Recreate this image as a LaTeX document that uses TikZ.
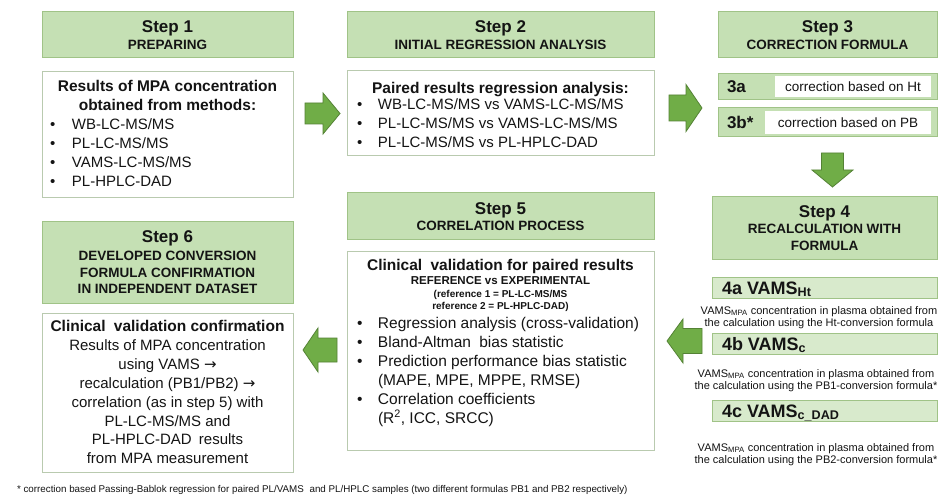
\documentclass[tikz,border=0pt]{standalone}
\usepackage{fontspec}
\setmainfont{Liberation Sans}
\newfontfamily\dejavu{DejaVu Sans}
\definecolor{hdrfill}{RGB}{197,224,180}
\definecolor{hdrdraw}{RGB}{160,195,135}
\definecolor{boxdraw}{RGB}{185,202,175}
\definecolor{vfill}{RGB}{216,234,204}
\definecolor{arrfill}{RGB}{112,173,71}
\definecolor{arrdraw}{RGB}{84,130,53}
\definecolor{txt}{RGB}{20,20,20}
\newcommand{\fs}[2]{\fontsize{#1}{#2}\selectfont}
\newcommand{\ctab}[1]{\begin{tabular}[t]{@{}c@{}}#1\end{tabular}}
\newcommand{\btab}[2]{\begin{tabular}[t]{@{}p{#1}@{}l@{}}#2\end{tabular}}
\newcommand{\rarr}{{\dejavu\char"2192}}
% right arrow: tail x, centre y, length, head length, shaft half, head half
\newcommand{\arrR}[6]{\draw[barrow] (#1,#2-#5) -- (#1+#3-#4,#2-#5) -- (#1+#3-#4,#2-#6) -- (#1+#3,#2) -- (#1+#3-#4,#2+#6) -- (#1+#3-#4,#2+#5) -- (#1,#2+#5) -- cycle;}
% left arrow: tip x, centre y, length, head length, shaft half, head half
\newcommand{\arrL}[6]{\draw[barrow] (#1,#2) -- (#1+#4,#2-#6) -- (#1+#4,#2-#5) -- (#1+#3,#2-#5) -- (#1+#3,#2+#5) -- (#1+#4,#2+#5) -- (#1+#4,#2+#6) -- cycle;}
% down arrow: centre x, top y, length, head length, shaft half, head half
\newcommand{\arrD}[6]{\draw[barrow] (#1-#5,#2) -- (#1+#5,#2) -- (#1+#5,#2+#3-#4) -- (#1+#6,#2+#3-#4) -- (#1,#2+#3) -- (#1-#6,#2+#3-#4) -- (#1-#5,#2+#3-#4) -- cycle;}
\begin{document}
\begin{tikzpicture}[x=1pt,y=-1pt,
  every node/.style={inner sep=0pt, outer sep=0pt, text=txt},
  hdr/.style={draw=hdrdraw, fill=hdrfill, line width=1pt, anchor=north west, align=center, font=\fs{13.5}{16.5}\bfseries},
  cbox/.style={draw=boxdraw, fill=white, line width=1pt, anchor=north west},
  rowbox/.style={draw=hdrdraw, fill=hdrfill, line width=1pt, anchor=north west},
  wbox/.style={fill=white, anchor=north west, font=\fs{13.5}{15}},
  vbox/.style={draw=hdrdraw, fill=vfill, line width=1pt, anchor=north west},
  barrow/.style={fill=arrfill, draw=arrdraw, line width=0.8pt, line join=miter},
  lbl/.style={anchor=west, font=\fs{17}{18}\bfseries},
  vlbl/.style={anchor=base west, font=\fs{18}{20}\bfseries},
  desc/.style={anchor=base, font=\fs{11}{12.2}},
  body/.style={font=\fs{15}{19}},
  btitle/.style={anchor=base, font=\fs{15.5}{19}\bfseries}]
\fill[white] (0,0) rectangle (938,500);
\useasboundingbox (0,0) rectangle (938,500);

% ---------- Step 1 ----------
\node[hdr, minimum width=251, minimum height=46] (h1) at (42,12) {{\fs{17}{17}Step 1}\\PREPARING};
\node[cbox, minimum width=251, minimum height=126] (c1) at (42,72) {};
\node[btitle] (c1t) at (167.5,92) {\ctab{Results of MPA concentration\\obtained from methods:}};
\node[body, anchor=base west] (c1b) at (50,129.5) {\btab{22pt}{\textbullet & WB-LC-MS/MS\\ \textbullet & PL-LC-MS/MS\\ \textbullet & VAMS-LC-MS/MS\\ \textbullet & PL-HPLC-DAD}};

% ---------- Step 2 ----------
\node[hdr, minimum width=307, minimum height=46] (h2) at (347,12) {{\fs{17}{17}Step 2}\\INITIAL REGRESSION ANALYSIS};
\node[cbox, minimum width=307, minimum height=85] (c2) at (347,71) {};
\node[btitle] (c2t) at (500.5,93.5) {Paired results regression analysis:};
\node[anchor=base west, font=\fs{15}{18.8}] (c2b) at (357,110) {\btab{21pt}{\textbullet & WB-LC-MS/MS vs VAMS-LC-MS/MS\\ \textbullet & PL-LC-MS/MS vs VAMS-LC-MS/MS\\ \textbullet & PL-LC-MS/MS vs PL-HPLC-DAD}};

% ---------- Step 3 ----------
\node[hdr, minimum width=219, minimum height=46] (h3) at (718,12) {{\fs{17}{17}Step 3}\\CORRECTION FORMULA};
\node[rowbox, minimum width=219, minimum height=26] (r3a) at (718,74) {};
\node[wbox, minimum width=156, minimum height=21] (w3a) at (775,76.5) {correction based on Ht};
\node[lbl] (l3a) at (727,87) {3a};
\node[rowbox, minimum width=219, minimum height=29] (r3b) at (718,108) {};
\node[wbox, minimum width=166, minimum height=23] (w3b) at (765,111) {correction based on PB};
\node[lbl] (l3b) at (727,122.5) {3b*};

% ---------- Step 4 ----------
\node[hdr, minimum width=225, minimum height=62] (h4) at (712,197) {{\fs{17}{17}Step 4}\\RECALCULATION WITH\\FORMULA};
\node[vbox, minimum width=225, minimum height=21] (b4a) at (712,277) {};
\node[vlbl] (t4a) at (722,294) {4a VAMS\textsubscript{Ht}};
\node[desc] (d4a) at (819,314) {\ctab{VAMS\textsubscript{MPA} concentration in plasma obtained from\\the calculation using the Ht-conversion formula}};
\node[vbox, minimum width=225, minimum height=21] (b4b) at (712,333) {};
\node[vlbl] (t4b) at (722,350) {4b VAMS\textsubscript{c}};
\node[desc] (d4b) at (816,377) {\ctab{VAMS\textsubscript{MPA} concentration in plasma obtained from\\the calculation using the PB1-conversion formula*}};
\node[vbox, minimum width=225, minimum height=21] (b4c) at (712,400) {};
\node[vlbl] (t4c) at (722,417) {4c VAMS\textsubscript{c\_DAD}};
\node[desc] (d4c) at (816,451) {\ctab{VAMS\textsubscript{MPA} concentration in plasma obtained from\\the calculation using the PB2-conversion formula*}};

% ---------- Step 5 ----------
\node[hdr, minimum width=307, minimum height=47] (h5) at (347,193) {{\fs{17}{17}Step 5}\\CORRELATION PROCESS};
\node[cbox, minimum width=307, minimum height=199] (c5) at (347,251) {};
\node[btitle] (c5t) at (500.5,270.5) {Clinical\hspace{4pt} validation for paired results};
\node[anchor=base, font=\fs{11.5}{13}\bfseries] (c5r) at (500.5,284.5) {REFERENCE vs EXPERIMENTAL};
\node[anchor=base, font=\fs{10}{13}\bfseries] (c5s) at (500.5,297) {\ctab{(reference 1 = PL-LC-MS/MS\\reference 2 = PL-HPLC-DAD)}};
\node[anchor=base west, font=\fs{15.5}{18.9}] (c5b) at (357,328.5) {\btab{21pt}{\textbullet & Regression analysis (cross-validation)\\ \textbullet & Bland-Altman\hspace{4pt} bias statistic\\ \textbullet & Prediction performance bias statistic\\ & (MAPE, MPE, MPPE, RMSE)\\ \textbullet & Correlation coefficients\\ & (R\textsuperscript{2}, ICC, SRCC)}};

% ---------- Step 6 ----------
\node[hdr, minimum width=251, minimum height=81] (h6) at (42,222) {{\fs{17}{17}Step 6}\\[1.5pt]DEVELOPED CONVERSION\\FORMULA CONFIRMATION\\IN INDEPENDENT DATASET};
\node[cbox, minimum width=251, minimum height=159] (c6) at (42,313) {};
\node[anchor=base, font=\fs{15}{18.9}] (c6t) at (167.5,331.5) {\ctab{{\fs{15.5}{18.9}\bfseries Clinical\hspace{4pt} validation confirmation}\\ Results of MPA concentration\\ using VAMS \rarr\\ recalculation (PB1/PB2) \rarr\\ correlation (as in step 5) with\\ PL-LC-MS/MS and\\ PL-HPLC-DAD\hspace{3pt} results\\ from MPA measurement}};

% ---------- arrows ----------
\arrR{305}{113.5}{35}{17}{10.5}{20.5}
\arrR{669}{108}{33}{16}{13}{23.5}
\arrD{832.5}{153}{34}{17}{11}{20.5}
\arrL{667}{341}{35}{16}{12.5}{22}
\arrL{303}{350}{34}{15}{12}{22}

% ---------- footnote ----------
\node[anchor=base west, font=\fs{9.8}{11}] (fn) at (17,492) {* correction based Passing-Bablok regression for paired PL/VAMS\hspace{3pt} and PL/HPLC samples (two different formulas PB1 and PB2 respectively)};
\end{tikzpicture}
\end{document}
